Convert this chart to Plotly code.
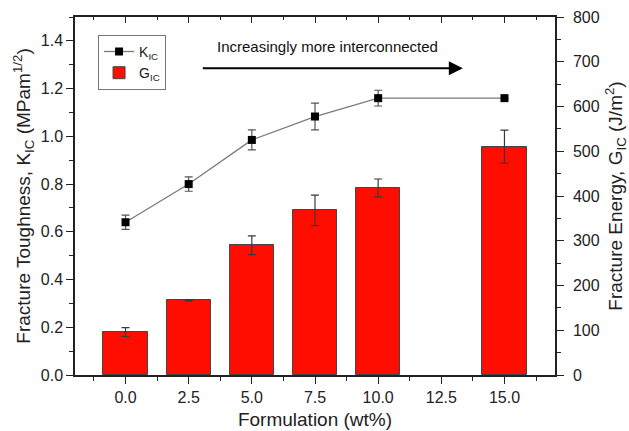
import plotly.graph_objects as go

# Filler loading of each formulation (wt%)
formulation = [0.0, 2.5, 5.0, 7.5, 10.0, 15.0]

# Fracture toughness K_IC (MPa m^1/2) and its standard deviation
k_ic = [0.64, 0.80, 0.985, 1.083, 1.16, 1.16]
k_ic_err = [0.03, 0.03, 0.042, 0.056, 0.033, 0.0]

# Fracture energy G_IC (J/m^2) and its standard deviation
g_ic = [96, 167, 290, 368, 418, 510]
g_ic_err = [10, 1.5, 21, 34, 20, 37]

x_tick_vals = [0.0, 2.5, 5.0, 7.5, 10.0, 12.5, 15.0]
x_tick_text = ["0.0", "2.5", "5.0", "7.5", "10.0", "12.5", "15.0"]
k_tick_vals = [0.0, 0.2, 0.4, 0.6, 0.8, 1.0, 1.2, 1.4]
k_tick_text = ["0.0", "0.2", "0.4", "0.6", "0.8", "1.0", "1.2", "1.4"]

FONT = "Liberation Sans, Arial, sans-serif"
AX = "#222222"

fig = go.Figure()

# G_IC bars on the bottom x axis / right y axis
fig.add_trace(go.Bar(
    x=formulation, y=g_ic, width=1.75,
    name="G<sub>IC</sub>",
    marker=dict(color="#ff0d00", line=dict(color="#444444", width=1)),
    error_y=dict(type="data", array=g_ic_err, visible=True,
                 color="#3a3a3a", thickness=1.2, width=4),
    xaxis="x", yaxis="y", legendrank=2,
))

# K_IC line on the top x axis (same range) / left y axis
fig.add_trace(go.Scatter(
    x=formulation, y=k_ic, mode="lines+markers",
    name="K<sub>IC</sub>",
    line=dict(color="#7a7a7a", width=1.3),
    marker=dict(symbol="square", size=8, color="#000000"),
    error_y=dict(type="data", array=k_ic_err, visible=True,
                 color="#555555", thickness=1.2, width=4),
    xaxis="x2", yaxis="y2", legendrank=1,
))

tick_font = dict(family=FONT, size=16, color=AX)
title_font = dict(family=FONT, size=19, color=AX)

fig.update_layout(
    width=629, height=431,
    margin=dict(l=75, r=74, t=17, b=56),
    paper_bgcolor="white", plot_bgcolor="white",
    font=dict(family=FONT, color=AX),
    bargap=0,
    xaxis=dict(
        range=[-2, 17], tickvals=x_tick_vals, ticktext=x_tick_text,
        ticks="outside", ticklen=7, tickwidth=1.3, tickcolor=AX,
        minor=dict(tick0=0, dtick=1.25, ticks="outside", ticklen=4,
                   tickwidth=1.3, tickcolor=AX),
        showline=True, linecolor=AX, linewidth=1.5,
        showgrid=False, zeroline=False, tickfont=tick_font,
        title=dict(text="Formulation (wt%)", font=title_font, standoff=8),
        anchor="y", automargin=False,
    ),
    xaxis2=dict(
        range=[-2, 17], overlaying="x", side="top", anchor="y2",
        tickvals=x_tick_vals, showticklabels=False,
        ticks="inside", ticklen=6, tickwidth=1.3, tickcolor=AX,
        minor=dict(tick0=0, dtick=1.25, ticks="inside", ticklen=3,
                   tickwidth=1.3, tickcolor=AX),
        showline=True, linecolor=AX, linewidth=1.5,
        showgrid=False, zeroline=False, automargin=False,
    ),
    yaxis=dict(
        range=[0, 800], side="right", dtick=100, anchor="x",
        ticks="outside", ticklen=7, tickwidth=1.3, tickcolor=AX,
        minor=dict(dtick=50, ticks="outside", ticklen=4,
                   tickwidth=1.3, tickcolor=AX),
        showline=True, linecolor=AX, linewidth=1.5,
        showgrid=False, zeroline=False, tickfont=tick_font,
        ticklabelstandoff=6,
        title=dict(text="Fracture Energy, G<sub>IC</sub> (J/m<sup>2</sup>)",
                   font=title_font, standoff=11),
        automargin=False,
    ),
    yaxis2=dict(
        range=[0, 1.5], side="left", overlaying="y", anchor="x2",
        tickvals=k_tick_vals, ticktext=k_tick_text,
        ticks="outside", ticklen=7, tickwidth=1.3, tickcolor=AX,
        minor=dict(tick0=0, dtick=0.1, ticks="outside", ticklen=4,
                   tickwidth=1.3, tickcolor=AX),
        showline=True, linecolor=AX, linewidth=1.5,
        showgrid=False, zeroline=False, tickfont=tick_font,
        title=dict(text="Fracture Toughness, K<sub>IC</sub> (MPam<sup>1/2</sup>)",
                   font=title_font, standoff=5),
        automargin=False,
    ),
    legend=dict(
        x=0.048, y=0.95, xanchor="left", yanchor="top",
        bgcolor="white", bordercolor="#777777", borderwidth=1,
        font=dict(family=FONT, size=14, color=AX),
        itemwidth=30, tracegroupgap=0,
    ),
    showlegend=True,
)

# Trend arrow and its caption
fig.add_annotation(
    x=13.35, y=1.285, ax=3.0, ay=1.285,
    xref="x2", yref="y2", axref="x2", ayref="y2",
    showarrow=True, arrowhead=2, arrowsize=1.4, arrowwidth=2,
    arrowcolor="#000000", text="",
)
fig.add_annotation(
    x=8.0, y=1.376, xref="x2", yref="y2",
    text="Increasingly more interconnected", showarrow=False,
    font=dict(family=FONT, size=15, color="#111111"),
)

fig.write_html("out.html")
